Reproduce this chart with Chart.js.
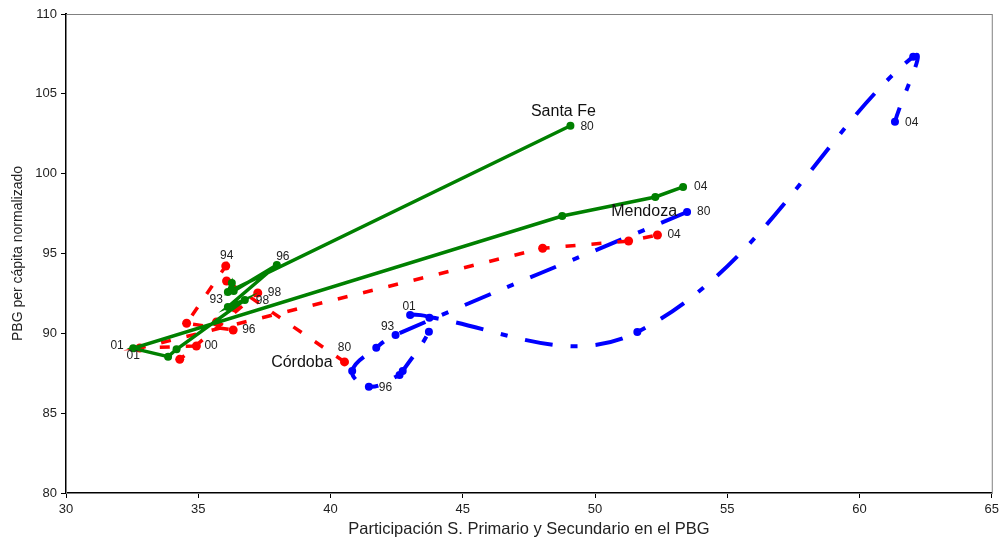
<!DOCTYPE html>
<html>
<head>
<meta charset="utf-8">
<script src="https://cdn.jsdelivr.net/npm/chart.js@4.4.1/dist/chart.umd.min.js"></script>
<style>
    body { margin: 0; background: #ffffff; }
    #wrap { width: 1003px; height: 539px; }
</style>
</head>
<body>
<div id="wrap"><canvas id="trajChart" width="1003" height="539"></canvas></div>
<script>
// Years of each trajectory point (1980, then 1993-2004)
const years = ["80", "93", "94", "95", "96", "97", "98", "99", "00", "01", "02", "03", "04"];

// Santa Fe
const santaFeX = [49.07, 36.12, 36.27, 36.34, 37.97, 36.12, 36.76, 34.18, 33.86, 32.54, 48.76, 52.28, 53.33];
const santaFeY = [103.0, 92.59, 93.15, 92.65, 94.28, 91.65, 92.09, 89.0, 88.54, 89.06, 97.35, 98.54, 99.17];
const santaFeTags = ["80", "93", "", "", "96", "", "98", "", "", "01", "", "", "04"];

// Córdoba
const cordobaX = [40.53, 36.07, 36.04, 34.56, 36.32, 35.69, 37.25, 34.30, 34.93, 32.79, 48.02, 51.27, 52.36];
const cordobaY = [88.21, 93.28, 94.22, 90.63, 90.21, 90.71, 92.53, 88.37, 89.21, 89.08, 95.33, 95.78, 96.16];
const cordobaTags = ["80", "", "94", "", "96", "", "98", "", "00", "01", "", "", "04"];

// Mendoza
const mendozaX = [53.48, 42.46, 41.73, 40.82, 41.45, 42.61, 42.73, 43.72, 43.74, 43.01, 51.60, 62.03, 61.34];
const mendozaY = [97.60, 89.90, 89.10, 87.64, 86.66, 87.39, 87.64, 90.10, 90.98, 91.15, 90.08, 107.33, 103.25];
const mendozaTags = ["80", "93", "", "", "96", "", "", "", "", "01", "", "", "04"];

const seriesNames = ["Santa Fe", "Córdoba", "Mendoza"];

// Axis ticks
const xTicks = [30, 35, 40, 45, 50, 55, 60, 65];
const yTicks = [80, 85, 90, 95, 100, 105, 110];

function toPoints(xs, ys) {
    return xs.map((x, i) => ({ x: x, y: ys[i] }));
}

// where each tag sits relative to its marker: [dx, dy, align]
const tagPlacement = {
    "0:0": [10, 1, "left"], "0:1": [-5, 8, "right"], "0:4": [6, -8, "center"],
    "0:6": [11, 1, "left"], "0:9": [0, 7, "center"], "0:12": [11, 0, "left"],
    "1:0": [0, -14, "center"], "1:2": [1, -10, "center"], "1:4": [9, 0, "left"],
    "1:6": [10, 0, "left"], "1:8": [8, 0, "left"], "1:9": [-16, -2, "right"], "1:12": [10, 0, "left"],
    "2:0": [10, 0, "left"], "2:1": [-8, -8, "center"], "2:4": [10, 1, "left"],
    "2:9": [-1, -8, "center"], "2:12": [10, 1, "left"]
};
const namePlacement = [[-7, -14, "center"], [-12, 1, "right"], [-10, 0, "right"]];

const pointTagsPlugin = {
    id: "pointTags",
    afterDatasetsDraw(chart) {
        const ctx = chart.ctx;
        ctx.save();
        ctx.textBaseline = "middle";
        chart.data.datasets.forEach((ds, di) => {
            const meta = chart.getDatasetMeta(di);
            ds.tags.forEach((tag, i) => {
                if (!tag) return;
                const p = meta.data[i];
                const pos = tagPlacement[di + ":" + i] || [10, 0, "left"];
                ctx.font = "12px 'Liberation Sans', Arial, sans-serif";
                ctx.fillStyle = "#222222";
                ctx.textAlign = pos[2];
                ctx.fillText(tag, p.x + pos[0], p.y + pos[1]);
            });
            // series name next to the 1980 point
            const first = meta.data[0];
            const np = namePlacement[di];
            ctx.font = "16px 'Liberation Sans', Arial, sans-serif";
            ctx.fillStyle = "#111111";
            ctx.textAlign = np[2];
            ctx.fillText(seriesNames[di], first.x + np[0], first.y + np[1]);
        });
        ctx.restore();
    }
};

// thin frame round the plot area
const framePlugin = {
    id: "frame",
    beforeDatasetsDraw(chart) {
        const a = chart.chartArea;
        const ctx = chart.ctx;
        ctx.save();
        ctx.strokeStyle = "#808080";
        ctx.lineWidth = 1;
        ctx.strokeRect(a.left + 0.5, a.top + 0.5, a.right - a.left, a.bottom - a.top);
        ctx.restore();
    }
};

document.addEventListener("DOMContentLoaded", function() {
    const ctx = document.getElementById("trajChart").getContext("2d");

    new Chart(ctx, {
        type: "scatter",
        data: {
            datasets: [{
                label: seriesNames[0],
                data: toPoints(santaFeX, santaFeY),
                tags: santaFeTags,
                showLine: true,
                borderColor: "#008000",
                backgroundColor: "#008000",
                borderWidth: 3.5,
                pointRadius: 4,
                pointBorderWidth: 0,
                tension: 0
            }, {
                label: seriesNames[1],
                data: toPoints(cordobaX, cordobaY),
                tags: cordobaTags,
                showLine: true,
                borderColor: "#ff0000",
                backgroundColor: "#ff0000",
                borderWidth: 3.5,
                borderDash: [10, 16],
                pointRadius: 4.5,
                pointBorderWidth: 0,
                tension: 0
            }, {
                label: seriesNames[2],
                data: toPoints(mendozaX, mendozaY),
                tags: mendozaTags,
                showLine: true,
                borderColor: "#0000ff",
                backgroundColor: "#0000ff",
                borderWidth: 4,
                borderDash: [28, 18, 7, 18],
                pointRadius: 4,
                pointBorderWidth: 0,
                tension: 0.4
            }]
        },
        options: {
            responsive: false,
            animation: false,
            layout: { padding: { top: 14, right: 10, left: 0, bottom: 0 } },
            plugins: {
                legend: { display: false },
                tooltip: { enabled: false }
            },
            scales: {
                x: {
                    type: "linear",
                    min: 30,
                    max: 65,
                    afterBuildTicks: s => { s.ticks = xTicks.map(v => ({ value: v })); },
                    afterFit: s => { s.height = 46; },
                    border: { color: "#000000", width: 2 },
                    grid: { drawOnChartArea: false, tickLength: 5, color: "#000000" },
                    ticks: { color: "#222222", padding: 4, font: { family: "'Liberation Sans', Arial", size: 13 } },
                    title: {
                        display: true,
                        text: "Participación S. Primario y Secundario en el PBG",
                        color: "#222222",
                        font: { family: "'Liberation Sans', Arial", size: 16.5 },
                        padding: { top: 0, bottom: 0 }
                    }
                },
                y: {
                    type: "linear",
                    min: 80,
                    max: 110,
                    afterBuildTicks: s => { s.ticks = yTicks.map(v => ({ value: v })); },
                    afterFit: s => { s.width = 66; },
                    border: { color: "#000000", width: 2 },
                    grid: { drawOnChartArea: false, tickLength: 5, color: "#000000" },
                    ticks: { color: "#222222", padding: 4, font: { family: "'Liberation Sans', Arial", size: 13 } },
                    title: {
                        display: true,
                        text: "PBG per cápita normalizado",
                        color: "#222222",
                        font: { family: "'Liberation Sans', Arial", size: 14 },
                        padding: { top: 10, bottom: 0 }
                    }
                }
            }
        },
        plugins: [framePlugin, pointTagsPlugin]
    });
});
</script>
</body>
</html>
